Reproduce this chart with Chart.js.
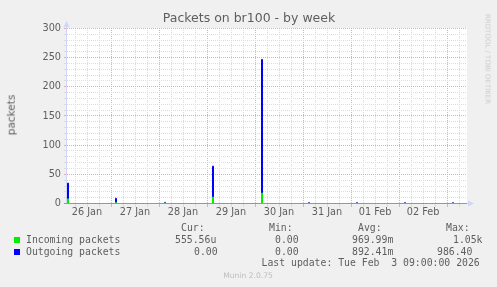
<!DOCTYPE html>
<html><head><meta charset="utf-8">
<script src="https://cdn.jsdelivr.net/npm/chart.js@4.4.1/dist/chart.umd.min.js"></script>
<style>
html,body{margin:0;padding:0;background:#f0f0f0;}
#wrap{position:relative;width:497px;height:287px;overflow:hidden;background:#f0f0f0;}
canvas{position:absolute;left:0;top:0;}
.t{position:absolute;white-space:pre;line-height:1;color:#5e5e5e;font-family:"DejaVu Sans";}
.sq{position:absolute;width:6px;height:6px;}
</style></head><body>
<div id="wrap"><canvas id="c" width="497" height="287"></canvas></div>
<script>
// ---- data: x = hours since the left edge of the graph (30-minute samples) ----
const hours    = [0, 0.25, 0.75, 24.25, 24.75, 48.75, 49.25, 72.75, 73.25, 97.25, 97.75, 120.75, 121.25, 144.75, 145.25, 168.75, 169.25, 192.75, 193.25, 200];
const outgoing = [0, 35,   0,    9,     0,     2,     0,     64,    0,     247,   0,     1.5,    0,      1.5,    0,      1.5,    0,      1.5,    0,      0];
const incoming = [0, 8,    0,    2,     0,     1,     0,     11,    0,     18,    0,     0.5,    0,      0.5,    0,      0.5,    0,      0.5,    0,      0];

const xTickLabels = ['26 Jan', '27 Jan', '28 Jan', '29 Jan', '30 Jan', '31 Jan', '01 Feb', '02 Feb'];
const xLabelHours = [10, 34, 58, 82, 106, 130, 154, 178];
const xMajorHours = [22, 46, 70, 94, 118, 142, 166, 190];
const yMajorTicks = [0, 50, 100, 150, 200, 250, 300];

const seriesNames = ['Incoming packets', 'Outgoing packets'];
const seriesColors = ['#00ee00', '#0000ff'];
const curVals = ['555.56u', '0.00'];
const minVals = ['0.00', '0.00'];
const avgVals = ['969.99m', '892.41m'];
const maxVals = ['1.05k', '986.40'];

const RED = '#f0a8a8';
const GRAY = '#dcdcdc';
const AXIS = '#cfd6f8';
const XAXIS = '#8c8cf6';

Chart.defaults.font.family = 'DejaVu Sans';

const axesPlugin = {
  id: 'rrdAxes',
  beforeDraw(chart) {
    const a = chart.chartArea, ctx = chart.ctx;
    ctx.save();
    ctx.fillStyle = '#ffffff';
    ctx.fillRect(a.left, a.top, a.right - a.left, a.bottom - a.top);
    ctx.restore();
  },
  afterDatasetsDraw(chart) {
    const a = chart.chartArea, ctx = chart.ctx;
    const by = chart.scales.y.getPixelForValue(0);
    ctx.save();
    ctx.lineWidth = 1;
    const lx = a.left - 0.5;
    ctx.strokeStyle = AXIS; ctx.fillStyle = AXIS;
    ctx.beginPath(); ctx.moveTo(lx, by); ctx.lineTo(lx, a.top - 5); ctx.stroke();
    ctx.beginPath(); ctx.moveTo(lx, a.top - 7); ctx.lineTo(lx - 3, a.top - 1); ctx.lineTo(lx + 3, a.top - 1); ctx.closePath(); ctx.fill();
    ctx.beginPath(); ctx.moveTo(a.right + 7, by); ctx.lineTo(a.right + 1, by - 3); ctx.lineTo(a.right + 1, by + 3); ctx.closePath(); ctx.fill();
    ctx.strokeStyle = XAXIS;
    ctx.beginPath(); ctx.moveTo(a.left - 3, by); ctx.lineTo(a.right, by); ctx.stroke();
    ctx.strokeStyle = AXIS;
    ctx.beginPath(); ctx.moveTo(a.right, by); ctx.lineTo(a.right + 2, by); ctx.stroke();
    ctx.restore();
  }
};

const pxPerUnit = 175 / 300;
const yPad = 0.5 / pxPerUnit;

new Chart(document.getElementById('c'), {
  type: 'line',
  data: {
    datasets: [
      { label: seriesNames[0], data: hours.map((h, i) => ({ x: h, y: incoming[i] })), borderColor: seriesColors[0], borderWidth: 1, pointRadius: 0, stepped: 'before', fill: false, order: 0 },
      { label: seriesNames[1], data: hours.map((h, i) => ({ x: h, y: outgoing[i] })), borderColor: seriesColors[1], borderWidth: 1, pointRadius: 0, stepped: 'before', fill: false, order: 1 }
    ]
  },
  options: {
    responsive: false, animation: false, devicePixelRatio: 1,
    layout: { padding: { left: 0, right: 30, top: 28, bottom: 63 } },
    plugins: { legend: { display: false }, tooltip: { enabled: false } },
    scales: {
      x: {
        type: 'linear', min: 0, max: 200,
        afterFit(s) { s.height = 20; },
        afterBuildTicks(s) { const t = []; for (let h = 4; h <= 196; h += 6) t.push({ value: h }); s.ticks = t; },
        ticks: { autoSkip: false, maxRotation: 0, padding: 0, color: '#5e5e5e', font: { size: 9.7 },
          callback(v) { const i = xLabelHours.indexOf(v); return i >= 0 ? xTickLabels[i] : ''; } },
        grid: { color: c => (c.tick && xMajorHours.includes(c.tick.value)) ? RED : GRAY, tickLength: 3, lineWidth: 1 },
        border: { display: false, dash: [1, 1] }
      },
      y: {
        min: -yPad, max: 300 + yPad,
        afterFit(s) { s.width = 67; },
        afterBuildTicks(s) { const t = []; for (let v = 0; v <= 300; v += 10) t.push({ value: v }); s.ticks = t; },
        ticks: { autoSkip: false, padding: 3, color: '#5e5e5e', font: { size: 9.7 },
          callback(v) { return yMajorTicks.includes(v) ? String(v) : ''; } },
        grid: { color: c => (c.tick && yMajorTicks.includes(c.tick.value)) ? RED : GRAY, tickLength: 3, lineWidth: 1 },
        border: { display: false, dash: [1, 1] }
      }
    }
  },
  plugins: [axesPlugin]
});

// ---- texts ----
const wrap = document.getElementById('wrap');
function txt(s, x, base, fs, opts) {
  opts = opts || {};
  const d = document.createElement('div');
  d.className = 't';
  d.textContent = s;
  d.style.fontSize = fs + 'px';
  if (opts.mono) d.style.fontFamily = '"DejaVu Sans Mono"';
  if (opts.color) d.style.color = opts.color;
  d.style.left = x + 'px';
  d.style.top = (base - 0.846 * fs) + 'px';
  if (opts.center) d.style.transform = 'translateX(-50%)';
  wrap.appendChild(d);
  return d;
}
function rot(s, cx, cy, fs, deg, color) {
  const d = document.createElement('div');
  d.className = 't';
  d.textContent = s;
  d.style.fontSize = fs + 'px';
  d.style.left = cx + 'px';
  d.style.top = cy + 'px';
  if (color) d.style.color = color;
  d.style.transform = 'translate(-50%,-50%) rotate(' + deg + 'deg)';
  wrap.appendChild(d);
}
txt('Packets on br100 - by week', 249, 22.5, 12.5, { center: true });
rot('packets', 11, 115, 10.5, -90);
rot('RRDTOOL / TOBI OETIKER', 487, 58.5, 7, 90, '#cccccc');

const MF = 9.8;
txt('Cur:', 181, 230.8, MF, { mono: true });
txt('Min:', 269, 230.8, MF, { mono: true });
txt('Avg:', 358, 230.8, MF, { mono: true });
txt('Max:', 446, 230.8, MF, { mono: true });
const curX = [175, 194], maxX = [453, 437];
for (let i = 0; i < 2; i++) {
  const b = 242.8 + 12 * i;
  const sq = document.createElement('div');
  sq.className = 'sq';
  sq.style.left = '14px'; sq.style.top = (237 + 12 * i) + 'px';
  sq.style.background = seriesColors[i];
  wrap.appendChild(sq);
  txt(seriesNames[i], 26, b, MF, { mono: true });
  txt(curVals[i], curX[i], b, MF, { mono: true });
  txt(minVals[i], 275, b, MF, { mono: true });
  txt(avgVals[i], 352, b, MF, { mono: true });
  txt(maxVals[i], maxX[i], b, MF, { mono: true });
}
txt('Last update: Tue Feb  3 09:00:00 2026', 261.5, 266.6, MF, { mono: true });
txt('Munin 2.0.75', 248, 278.3, 7.6, { center: true, color: '#bdbdbd' });
</script>
</body></html>
